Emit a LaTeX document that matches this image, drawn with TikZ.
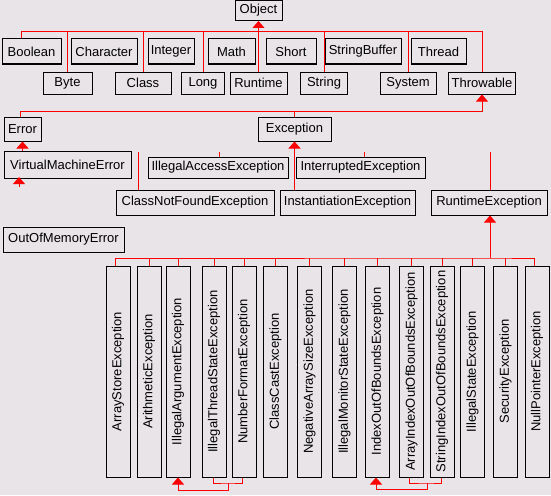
\documentclass[tikz,border=0pt]{standalone}
\usepackage{fontspec}
\setmainfont{Liberation Sans}
\usetikzlibrary{arrows.meta}
\definecolor{bgcol}{RGB}{232,228,232}
\tikzset{
  cls/.style={ draw, line width=1pt, inner sep=0pt, font=\fontsize{13}{15}\selectfont }
}
\tikzset{
  rowA/.style={ cls, minimum height=25pt }
}
\tikzset{
  rowB/.style={ cls, minimum height=22pt }
}
\tikzset{
  vcls/.style={ cls, minimum width=24pt, minimum height=211pt }
}
\tikzset{
  tree/.style={ draw=red, line width=1pt }
}
\tikzset{
  inh/.style={ tree, -{Triangle[width=12pt,length=7pt]} }
}

\begin{document}
\begin{tikzpicture}[x=1pt, y=-1pt]
      \path[use as bounding box, fill=bgcol] (0,0) rectangle (551,495);
      % top of the hierarchy
      \node[cls, minimum width=47pt, minimum height=20pt] (object) at (258.5,10.5) {Object};
      \node[rowA, minimum width=59pt] (boolean) at (31.5,51.5) {Boolean};
      \node[rowA, minimum width=66pt] (character) at (104,51.5) {Character};
      \node[rowA, minimum width=46pt] (integer) at (171,51.5) {Integer};
      \node[rowA, minimum width=47pt] (math) at (231.5,51.5) {Math};
      \node[rowA, minimum width=50pt] (short) at (291,51.5) {Short};
      \node[rowA, minimum width=76pt] (strbuf) at (363,51.5) {StringBuffer};
      \node[rowA, minimum width=55pt] (thread) at (438.5,51.5) {Thread};
      \node[rowB, minimum width=49pt] (byte) at (67.5,83) {Byte};
      \node[rowB, minimum width=56pt] (class) at (143,83) {Class};
      \node[rowB, minimum width=43pt] (long) at (203,83) {Long};
      \node[rowB, minimum width=57pt] (runtime) at (258.5,83) {Runtime};
      \node[rowB, minimum width=47pt] (string) at (324,83) {String};
      \node[rowB, minimum width=56pt] (system) at (408,83) {System};
      \node[rowB, minimum width=67pt] (throwable) at (482,83) {Throwable};
      \coordinate (objbus) at (258.5,31.5);
      \draw[tree] ([xshift=-10.5pt]boolean.north) |- (objbus) -| (throwable.north);
      \draw[tree] (byte.north) -- (byte.north |- objbus);
      \draw[tree] (class.north) -- (class.north |- objbus);
      \draw[tree] (long.north) -- (long.north |- objbus);
      \draw[tree] (string.north) -- (string.north |- objbus);
      \draw[tree] (system.north) -- (system.north |- objbus);
      \draw[tree] (runtime.north) -- (objbus);
      \draw[inh] (objbus) -- (object.south);

      % Throwable
      \node[cls, minimum width=37pt, minimum height=24pt] (error) at (22.5,129) {Error};
      \node[cls, minimum width=73pt, minimum height=24pt] (exception) at (294.5,129) {Exception};
      \coordinate (thrbus) at (482,111.5);
      \draw[tree] ([xshift=-2.5pt]error.north) |- (thrbus);
      \draw[tree] (exception.north) -- (exception.north |- thrbus);
      \draw[inh] (thrbus) -- (throwable.south);

      \node[cls, minimum width=127pt, minimum height=27pt] (vmerror) at (67.5,164.5) {VirtualMachineError};
      \node[cls, minimum width=121pt, minimum height=25pt] (oomerror) at (63.5,239.5) {OutOfMemoryError};
      \draw[inh] (vmerror.north -| error.south) -- (error.south);
      \coordinate (oomstub) at (19,186.5);
      \draw[inh] (oomstub) -- ([yshift=1.5pt]oomstub |- vmerror.south);

      % Exception
      \node[cls, minimum width=140pt, minimum height=21pt] (illaccess) at (218,167.5) {IllegalAccessException};
      \node[cls, minimum width=129pt, minimum height=21pt] (interrupted) at (360.5,167.5) {InterruptedException};
      \node[cls, minimum width=158pt, minimum height=25pt] (cnfexc) at (195,202.5) {ClassNotFoundException};
      \node[cls, minimum width=135pt, minimum height=25pt] (instexc) at (347.5,202.5) {InstantiationException};
      \node[cls, minimum width=116pt, minimum height=25pt] (rtexc) at (489,202.5) {RuntimeException};
      \coordinate (excstub) at (0,152);
      \coordinate (cnfup) at (138,152);
      \coordinate (rtup) at (490,152);
      \draw[tree] ([xshift=1pt]illaccess.north) -- ([xshift=1pt]illaccess.north |- excstub);
      \draw[tree] ([xshift=3.5pt]interrupted.north) -- ([xshift=3.5pt]interrupted.north |- excstub);
      \draw[tree] (cnfup) -- (cnfup |- cnfexc.north);
      \draw[tree] (rtup) -- (rtup |- rtexc.north);
      \draw[inh] (instexc.north -| exception.south) -- (exception.south);

      % RuntimeException
      \node[vcls] (arrstore) at (118,371.5) {\rotatebox{90}{ArrayStoreException}};
      \node[vcls] (arith) at (149,371.5) {\rotatebox{90}{ArithmeticException}};
      \node[vcls] (illarg) at (178,371.5) {\rotatebox{90}{IllegalArgumentException}};
      \node[vcls] (illthread) at (214,371.5) {\rotatebox{90}{IllegalThreadStateException}};
      \node[vcls] (numfmt) at (244,371.5) {\rotatebox{90}{NumberFormatException}};
      \node[vcls] (classcast) at (275.5,371.5) {\rotatebox{90}{ClassCastException}};
      \node[vcls] (negsize) at (309.5,371.5) {\rotatebox{90}{NegativeArraySizeException}};
      \node[vcls] (illmon) at (344.5,371.5) {\rotatebox{90}{IllegalMonitorStateException}};
      \node[vcls] (idxbounds) at (377.5,371.5) {\rotatebox{90}{IndexOutOfBoundsException}};
      \node[vcls] (arridx) at (411.5,371.5) {\rotatebox{90}{ArrayIndexOutOfBoundsException}};
      \node[vcls] (stridx) at (442,371.5) {\rotatebox{90}{StringIndexOutOfBoundsException}};
      \node[vcls] (illstate) at (472.5,371.5) {\rotatebox{90}{IllegalStateException}};
      \node[vcls] (security) at (505.5,371.5) {\rotatebox{90}{SecurityException}};
      \node[vcls] (nullptr) at (537,371.5) {\rotatebox{90}{NullPointerException}};
      \coordinate (rtbus) at (490,258);
      \draw[tree] ([xshift=-3pt]arrstore.north) |- (rtbus) -| ([xshift=-3pt]nullptr.north);
      \draw[tree] (arith.north) -- (arith.north |- rtbus);
      \draw[tree] (illarg.north) -- (illarg.north |- rtbus);
      \draw[tree] (illthread.north) -- (illthread.north |- rtbus);
      \draw[tree] (numfmt.north) -- (numfmt.north |- rtbus);
      \draw[tree] (classcast.north) -- (classcast.north |- rtbus);
      \draw[tree] (negsize.north) -- (negsize.north |- rtbus);
      \draw[tree] (illmon.north) -- (illmon.north |- rtbus);
      \draw[tree] (idxbounds.north) -- (idxbounds.north |- rtbus);
      \draw[tree] (arridx.north) -- (arridx.north |- rtbus);
      \draw[tree] (stridx.north) -- (stridx.north |- rtbus);
      \draw[tree] (illstate.north) -- (illstate.north |- rtbus);
      \draw[tree] (security.north) -- (security.north |- rtbus);
      \draw[inh] (rtbus) -- (rtbus |- rtexc.south);

      % subclasses of IllegalArgumentException and IndexOutOfBoundsException
      \coordinate (argjoin) at (228,483);
      \coordinate (argjoinlow) at (228,490);
      \draw[tree] ([xshift=-1pt]illthread.south) |- (argjoin) -| ([xshift=-2pt]numfmt.south);
      \draw[inh] (argjoin) -- (argjoinlow) -| (illarg.south);
      \coordinate (idxjoin) at (427,483);
      \coordinate (idxjoinlow) at (427,489);
      \draw[tree] ([xshift=-2.5pt]arridx.south) |- (idxjoin) -| ([xshift=-1pt]stridx.south);
      \draw[inh] (idxjoin) -- (idxjoinlow) -| ([xshift=-1.5pt]idxbounds.south);
\end{tikzpicture}
\end{document}
